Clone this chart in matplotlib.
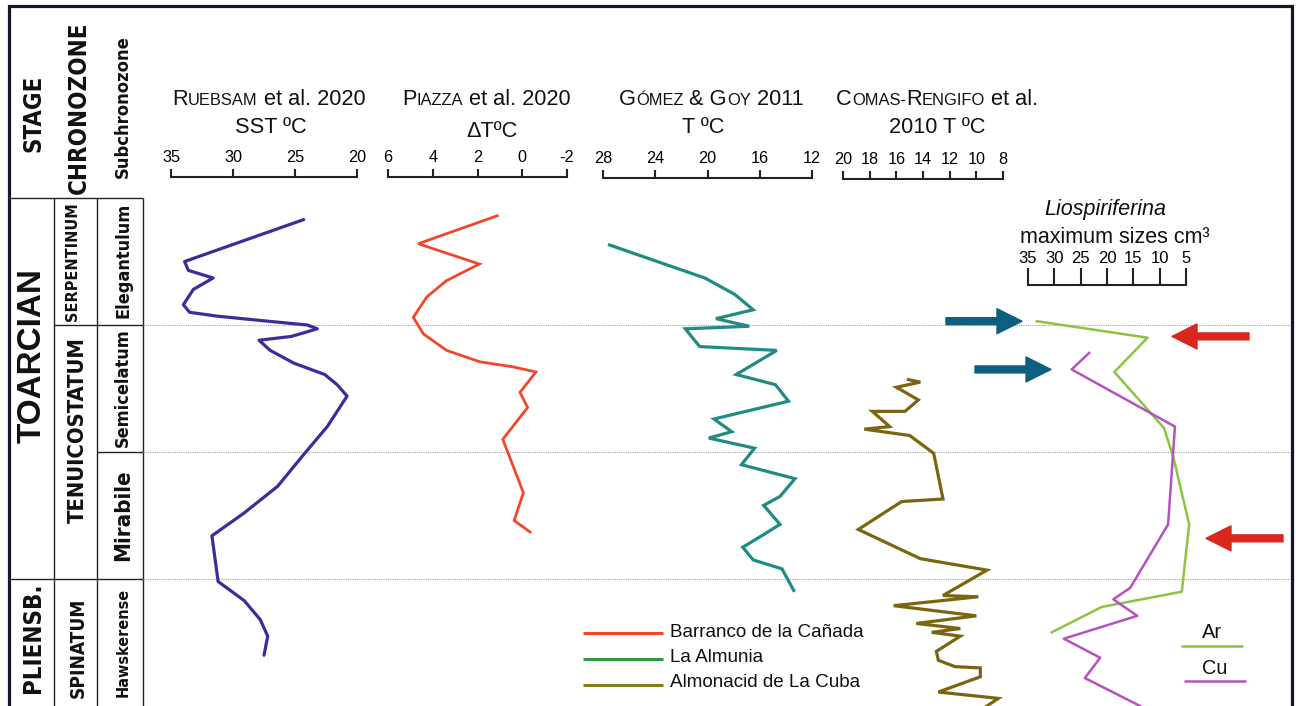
import matplotlib
matplotlib.use("Agg")
import matplotlib.pyplot as plt
from matplotlib import font_manager as fm
from matplotlib.font_manager import FontProperties
from matplotlib.offsetbox import TextArea, HPacker, AnnotationBbox

plt.rcParams['font.family'] = ['Liberation Sans', 'DejaVu Sans']
plt.rcParams['axes.unicode_minus'] = False

W, H = 1296, 706
ZONE_PX = 127          # height of one subzone in pixels
TOP_LEVEL = 4          # top of the Elegantulum subzone

# ---------------- data: stratigraphic level (subzone units, 0 = base) ----------------
ruebsam_level = [3.83, 3.50, 3.43, 3.37, 3.28, 3.16, 3.10, 3.07, 3.03, 3.00, 2.97, 2.91,
                 2.88, 2.80, 2.70, 2.61, 2.53, 2.44, 2.20, 1.98, 1.73, 1.52, 1.34, 0.98,
                 0.83, 0.68, 0.55, 0.40]
ruebsam_sst = [24.3, 33.9, 33.6, 31.6, 33.2, 34.0, 33.5, 31.3, 27.2, 24.0, 23.2, 25.3,
               27.9, 27.0, 25.1, 22.6, 21.6, 20.8, 22.4, 24.3, 26.4, 29.1, 31.7, 31.2,
               29.1, 27.8, 27.2, 27.5]

piazza_level = [3.86, 3.64, 3.48, 3.35, 3.22, 3.06, 2.93, 2.80, 2.71, 2.67, 2.63, 2.47,
                2.35, 2.10, 1.68, 1.46, 1.37]
piazza_dt = [1.12, 4.65, 1.92, 3.38, 4.27, 4.87, 4.42, 3.38, 1.89, 0.40, -0.61, 0.10,
             -0.24, 0.87, -0.05, 0.36, -0.35]

gomez_level = [3.63, 3.37, 3.24, 3.12, 3.05, 2.99, 2.97, 2.83, 2.80, 2.61, 2.53, 2.40,
               2.26, 2.16, 2.11, 2.03, 1.90, 1.79, 1.65, 1.58, 1.43, 1.35, 1.25, 1.15,
               1.08, 0.91]
gomez_t = [27.5, 20.2, 17.9, 16.5, 19.35, 16.8, 21.7, 20.6, 14.7, 17.8, 14.8, 13.8,
           19.5, 18.15, 19.9, 16.4, 17.4, 13.3, 14.45, 15.7, 14.45, 15.7, 17.3, 16.5,
           14.3, 13.4]

comas_level = [2.57, 2.55, 2.51, 2.41, 2.32, 2.32, 2.20, 2.18, 2.13, 1.99, 1.63, 1.61,
               1.39, 1.16, 1.07, 0.87, 0.86, 0.79, 0.71, 0.65, 0.61, 0.58, 0.55, 0.43,
               0.36, 0.31, 0.30, 0.23, 0.11, 0.06, 0.00]
comas_t = [15.1, 14.2, 16.0, 14.35, 15.35, 17.8, 16.5, 18.4, 15.0, 13.2, 12.5, 15.6,
           18.85, 14.2, 9.2, 12.5, 9.85, 16.2, 10.0, 14.5, 11.2, 13.35, 11.2, 13.0,
           12.85, 11.6, 9.7, 9.7, 12.85, 8.35, 9.2]

ar_level = [3.03, 2.90, 2.63, 2.19, 1.96, 1.43, 0.90, 0.78, 0.58]
ar_size = [33.35, 12.3, 18.6, 9.2, 7.4, 4.4, 5.8, 21.0, 30.5]

cu_level = [2.78, 2.65, 2.20, 1.43, 0.93, 0.84, 0.71, 0.53, 0.38, 0.22, 0.00]
cu_size = [23.4, 26.7, 7.1, 8.4, 15.6, 18.8, 14.25, 28.2, 21.3, 24.2, 13.7]

# scale ticks
ruebsam_ticks = [35, 30, 25, 20]
piazza_ticks = [6, 4, 2, 0, -2]
gomez_ticks = [28, 24, 20, 16, 12]
comas_ticks = [20, 18, 16, 14, 12, 10, 8]
lio_ticks = [35, 30, 25, 20, 15, 10, 5]

# levels marked with arrows
blue_arrow_levels = [3.03, 2.65]
red_arrow_levels = [2.91, 1.32]

# zone boundaries (levels)
boundary_levels = [1, 2, 3]

# ---------------- colours ----------------
C_RUEBSAM = '#3b2d9a'
C_PIAZZA = '#f2472b'
C_GOMEZ = '#1f8b84'
C_COMAS = '#7b6510'
C_AR = '#8cc541'
C_CU = '#b552be'
C_BLUE = '#0d5f80'
C_RED = '#d9271d'
C_LINE = '#222222'


def find_narrow_bold():
    """Path of a condensed bold sans face, if one is installed."""
    best = None
    for f in fm.fontManager.ttflist:
        w = f.weight
        bold = (w in ('bold', 'heavy', 'black')) or (isinstance(w, int) and 650 <= w <= 800)
        if not bold or f.style != 'normal':
            continue
        nm = f.name.lower()
        if 'mono' in nm or 'serif' in nm and 'sans' not in nm:
            continue
        narrow = ('narrow' in nm or 'condensed' in nm or
                  f.stretch in ('condensed', 'semi-condensed'))
        if narrow and 'extra' not in nm and 'extra' not in str(f.stretch):
            if best is None or 'liberation' in nm:
                best = f.fname
    return best


NARROW_PATH = find_narrow_bold()

fig = plt.figure(figsize=(W / 100, H / 100), dpi=100)
renderer = fig.canvas.get_renderer()

# layout axes in pixel units
lay = fig.add_axes([0, 0, 1, 1])
lay.set_xlim(0, W)
lay.set_ylim(H, 0)
lay.axis('off')

# stratigraphic frame: x in pixels, y in levels
strat = fig.add_axes([0, 0, 1, TOP_LEVEL * ZONE_PX / H])
strat.set_xlim(0, W)
strat.set_ylim(0, TOP_LEVEL)
strat.axis('off')
strat.patch.set_alpha(0)


def curve_axes(x0, x1, lim):
    ax = fig.add_axes([x0 / W, 0, (x1 - x0) / W, TOP_LEVEL * ZONE_PX / H])
    ax.set_xlim(*lim)
    ax.set_ylim(0, TOP_LEVEL)
    ax.axis('off')
    ax.patch.set_alpha(0)
    return ax


def scale_bar(x0, x1, lim, ticks, bar_py, tick_px, pad, size=11.7):
    sax = fig.add_axes([x0 / W, 1 - bar_py / H, (x1 - x0) / W, tick_px / H])
    sax.set_xlim(*lim)
    sax.set_ylim(0, 1)
    for s in ('top', 'left', 'right'):
        sax.spines[s].set_visible(False)
    sax.spines['bottom'].set_linewidth(1.5)
    sax.spines['bottom'].set_color(C_LINE)
    sax.set_xticks(ticks)
    sax.set_xticklabels([str(t) for t in ticks])
    sax.set_yticks([])
    sax.tick_params(axis='x', direction='in', length=tick_px * 0.72, width=1.5,
                    color=C_LINE, top=False, bottom=True, labelbottom=False,
                    labeltop=True, pad=pad, labelsize=size)
    sax.patch.set_alpha(0)
    return sax


def smallcaps(parts, cx, baseline_py, big=15.7, small=11.9):
    boxes = [TextArea(txt, textprops=dict(fontsize=big if is_big else small, color='#111111'))
             for txt, is_big in parts]
    pack = HPacker(children=boxes, align='baseline', pad=0, sep=0)
    descent = 0.212 * big * 100 / 72
    ab = AnnotationBbox(pack, (cx, baseline_py + descent), xycoords='data',
                        box_alignment=(0.5, 0.0), frameon=False, pad=0)
    lay.add_artist(ab)


def column_label(ax, x, y, text, length_px, max_size, narrow=True):
    """Vertical bold label scaled so that it spans length_px pixels."""
    if narrow and NARROW_PATH:
        fp = FontProperties(fname=NARROW_PATH, size=max_size)
    else:
        fp = FontProperties(family=['Liberation Sans', 'DejaVu Sans'], weight='bold',
                            size=max_size)
    t = ax.text(x, y, text, rotation=90, ha='center', va='center', color='#111111',
                fontproperties=fp)
    length = t.get_window_extent(renderer).height
    t.set_fontsize(min(max_size, max_size * length_px / length))
    return t


# ---------------- curves ----------------
a1 = curve_axes(171, 357, (35, 20))
a1.plot(ruebsam_sst, ruebsam_level, color=C_RUEBSAM, lw=2.3, clip_on=False,
        solid_joinstyle='round', solid_capstyle='round')
scale_bar(171, 357, (35, 20), ruebsam_ticks, 177, 8, 3)

a2 = curve_axes(388, 567, (6, -2))
a2.plot(piazza_dt, piazza_level, color=C_PIAZZA, lw=2.0, clip_on=False,
        solid_joinstyle='miter')
scale_bar(388, 567, (6, -2), piazza_ticks, 177, 8, 3)

a3 = curve_axes(603, 812, (28, 12))
a3.plot(gomez_t, gomez_level, color=C_GOMEZ, lw=2.3, clip_on=False,
        solid_joinstyle='miter')
scale_bar(603, 812, (28, 12), gomez_ticks, 178, 8, 3)

a4 = curve_axes(843, 1003, (20, 8))
a4.plot(comas_t, comas_level, color=C_COMAS, lw=2.3, clip_on=False,
        solid_joinstyle='miter')
scale_bar(843, 1003, (20, 8), comas_ticks, 179, 8, 3)

a5 = curve_axes(1028, 1186, (35, 5))
a5.plot(ar_size, ar_level, color=C_AR, lw=1.8, clip_on=False)
a5.plot(cu_size, cu_level, color=C_CU, lw=1.8, clip_on=False)
scale_bar(1028, 1186, (35, 5), lio_ticks, 285, 17, 1.5, size=12)

# ---------------- headers ----------------
smallcaps([('R', True), ('UEBSAM', False), (' et al. 2020', True)], 269, 105)
lay.text(271, 133, 'SST ºC', fontsize=15.7, ha='center', va='baseline', color='#111111')

smallcaps([('P', True), ('IAZZA', False), (' et al. 2020', True)], 486, 105)
lay.text(492, 137, 'ΔTºC', fontsize=15.7, ha='center', va='baseline', color='#111111')

smallcaps([('G', True), ('ÓMEZ', False), (' & G', True), ('OY', False), (' 2011', True)], 711, 105)
lay.text(703, 133, 'T ºC', fontsize=15.7, ha='center', va='baseline', color='#111111')

smallcaps([('C', True), ('OMAS-', False), ('R', True), ('ENGIFO', False), (' et al.', True)], 937, 105)
lay.text(937, 133, '2010 T ºC', fontsize=15.7, ha='center', va='baseline', color='#111111')

lay.text(1105, 215, 'Liospiriferina', fontsize=15.5, style='italic', ha='center',
         va='baseline', color='#111111')
lay.text(1115, 243, 'maximum sizes cm³', fontsize=15.5, ha='center', va='baseline',
         color='#111111')

# ---------------- outer frame ----------------
lay.plot([9, 9, 1292, 1292], [H + 5, 6, 6, H + 5], color='#16162a', lw=2.3,
         solid_joinstyle='miter', clip_on=False)

# ---------------- stratigraphic columns ----------------
col_kw = dict(color=C_LINE, lw=1.0, solid_capstyle='butt', clip_on=False)
for x in (54, 97, 143):
    strat.plot([x, x], [0, TOP_LEVEL], **col_kw)
strat.plot([9, 143], [TOP_LEVEL, TOP_LEVEL], **col_kw)
strat.plot([54, 143], [3, 3], **col_kw)
strat.plot([97, 143], [2, 2], **col_kw)
strat.plot([9, 143], [1, 1], **col_kw)
for lv in boundary_levels:
    strat.plot([143, 1290], [lv, lv], color='#a3a3a3', lw=0.8, ls=(0, (1, 1)), clip_on=False)

column_label(lay, 33, 113.5, 'STAGE', 77, 22)
column_label(lay, 79, 107.5, 'CHRONOZONE', 171, 19)
column_label(lay, 123, 106.5, 'Subchronozone', 143, 18)

column_label(strat, 32, 2.76, 'TOARCIAN', 175, 24, narrow=False)
column_label(strat, 33, 0.54, 'PLIENSB.', 111, 23)
column_label(strat, 73, 3.50, 'SERPENTINUM', 118, 20)
column_label(strat, 78, 2.17, 'TENUICOSTATUM', 186, 20)
column_label(strat, 78, 0.46, 'SPINATUM', 100, 20)
column_label(strat, 123, 3.51, 'Elegantulum', 115, 16)
column_label(strat, 123, 2.51, 'Semicelatum', 119, 16)
column_label(strat, 123, 1.50, 'Mirabile', 96, 16)
column_label(strat, 123, 0.50, 'Hawskerense', 109, 16)

# ---------------- arrows ----------------
arrow_style = "simple,head_length=0.9,head_width=0.9,tail_width=0.25"
for lv, (tail, tip) in zip(blue_arrow_levels, [(946, 1022), (975, 1051)]):
    strat.annotate('', xy=(tip, lv), xytext=(tail, lv),
                   arrowprops=dict(arrowstyle=arrow_style, mutation_scale=20,
                                   color=C_BLUE, shrinkA=0, shrinkB=0))
for lv, (tail, tip) in zip(red_arrow_levels, [(1249, 1172), (1283, 1206)]):
    strat.annotate('', xy=(tip, lv), xytext=(tail, lv),
                   arrowprops=dict(arrowstyle=arrow_style, mutation_scale=20,
                                   color=C_RED, shrinkA=0, shrinkB=0))

# ---------------- legends ----------------
legend_items = [('Barranco de la Cañada', '#f2472b', 633, 637),
                ('La Almunia', '#2a9a3c', 659, 662),
                ('Almonacid de La Cuba', '#857f18', 685, 687)]
for label, col, ly, ty in legend_items:
    lay.plot([583, 663], [ly, ly], color=col, lw=2.2, solid_capstyle='butt')
    lay.text(670, ty, label, fontsize=13.6, ha='left', va='baseline', color='#111111')

for label, col, ly, ty, x0, x1 in [('Ar', C_AR, 646, 638, 1181, 1243),
                                   ('Cu', C_CU, 681, 674, 1184, 1246)]:
    lay.plot([x0, x1], [ly, ly], color=col, lw=1.8, solid_capstyle='butt')
    lay.text((x0 + x1) / 2, ty, label, fontsize=14.4, ha='center', va='baseline',
             color='#111111')

fig.savefig('out.png', dpi=100)
